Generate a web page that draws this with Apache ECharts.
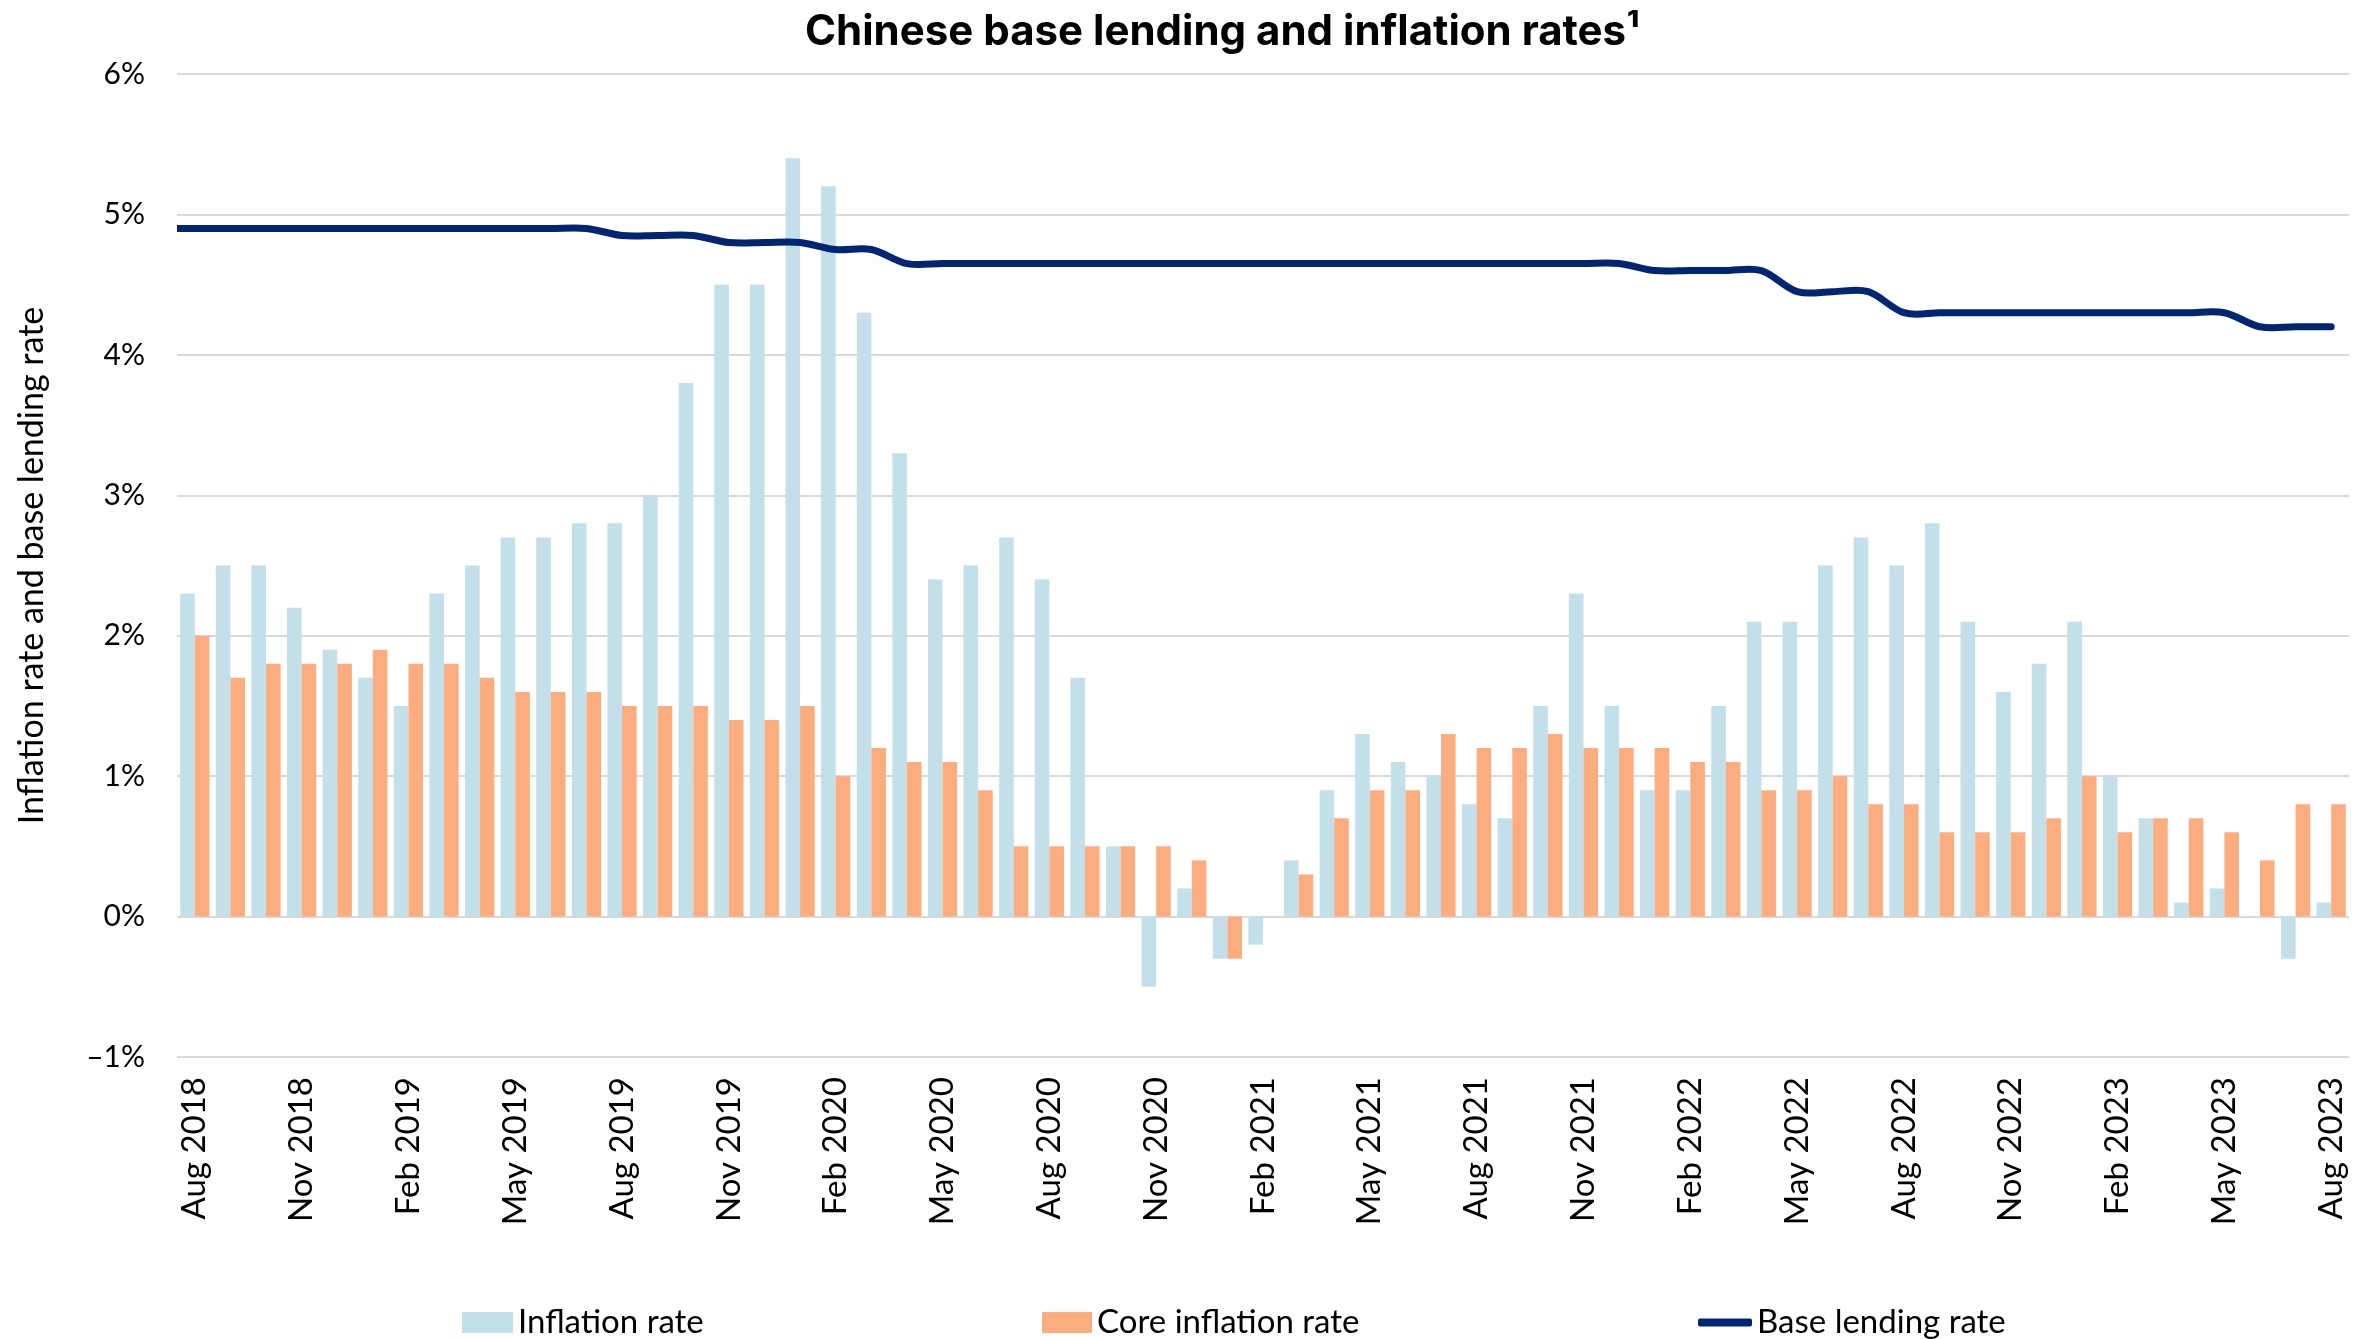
<!DOCTYPE html>
<html>
<head>
<meta charset="utf-8">
<script src="https://cdn.jsdelivr.net/npm/echarts@6/dist/echarts.min.js"></script>
<style>
  html, body { margin: 0; padding: 0; background: #ffffff; }
  #chart { width: 2367px; height: 1339px; }
</style>
</head>
<body>
<div id="chart"></div>
<script>
// Monthly categories, Aug 2018 – Aug 2023
const months = [
  'Aug 2018','Sep 2018','Oct 2018','Nov 2018','Dec 2018',
  'Jan 2019','Feb 2019','Mar 2019','Apr 2019','May 2019','Jun 2019','Jul 2019','Aug 2019','Sep 2019','Oct 2019','Nov 2019','Dec 2019',
  'Jan 2020','Feb 2020','Mar 2020','Apr 2020','May 2020','Jun 2020','Jul 2020','Aug 2020','Sep 2020','Oct 2020','Nov 2020','Dec 2020',
  'Jan 2021','Feb 2021','Mar 2021','Apr 2021','May 2021','Jun 2021','Jul 2021','Aug 2021','Sep 2021','Oct 2021','Nov 2021','Dec 2021',
  'Jan 2022','Feb 2022','Mar 2022','Apr 2022','May 2022','Jun 2022','Jul 2022','Aug 2022','Sep 2022','Oct 2022','Nov 2022','Dec 2022',
  'Jan 2023','Feb 2023','Mar 2023','Apr 2023','May 2023','Jun 2023','Jul 2023','Aug 2023'
];

// Headline CPI inflation, % year on year
const inflationRate = [
  2.3, 2.5, 2.5, 2.2, 1.9,
  1.7, 1.5, 2.3, 2.5, 2.7, 2.7, 2.8, 2.8, 3.0, 3.8, 4.5, 4.5,
  5.4, 5.2, 4.3, 3.3, 2.4, 2.5, 2.7, 2.4, 1.7, 0.5, -0.5, 0.2,
  -0.3, -0.2, 0.4, 0.9, 1.3, 1.1, 1.0, 0.8, 0.7, 1.5, 2.3, 1.5,
  0.9, 0.9, 1.5, 2.1, 2.1, 2.5, 2.7, 2.5, 2.8, 2.1, 1.6, 1.8,
  2.1, 1.0, 0.7, 0.1, 0.2, 0.0, -0.3, 0.1
];

// Core CPI inflation, % year on year
const coreInflationRate = [
  2.0, 1.7, 1.8, 1.8, 1.8,
  1.9, 1.8, 1.8, 1.7, 1.6, 1.6, 1.6, 1.5, 1.5, 1.5, 1.4, 1.4,
  1.5, 1.0, 1.2, 1.1, 1.1, 0.9, 0.5, 0.5, 0.5, 0.5, 0.5, 0.4,
  -0.3, 0.0, 0.3, 0.7, 0.9, 0.9, 1.3, 1.2, 1.2, 1.3, 1.2, 1.2,
  1.2, 1.1, 1.1, 0.9, 0.9, 1.0, 0.8, 0.8, 0.6, 0.6, 0.6, 0.7,
  1.0, 0.6, 0.7, 0.7, 0.6, 0.4, 0.8, 0.8
];

// Base lending rate, %; the July 2018 reading carries the line in from the left edge
const lendingRateJul2018 = 4.9;
const lendingRate = [
  4.9, 4.9, 4.9, 4.9, 4.9,
  4.9, 4.9, 4.9, 4.9, 4.9, 4.9, 4.9, 4.85, 4.85, 4.85, 4.8, 4.8,
  4.8, 4.75, 4.75, 4.65, 4.65, 4.65, 4.65, 4.65, 4.65, 4.65, 4.65, 4.65,
  4.65, 4.65, 4.65, 4.65, 4.65, 4.65, 4.65, 4.65, 4.65, 4.65, 4.65, 4.65,
  4.6, 4.6, 4.6, 4.6, 4.45, 4.45, 4.45, 4.3, 4.3, 4.3, 4.3, 4.3,
  4.3, 4.3, 4.3, 4.3, 4.3, 4.2, 4.2, 4.2
];

const yTicks = { min: -1, max: 6, step: 1 };

// [month index, rate] pairs; index -1 is July 2018
const lendingPoints = [[-1, lendingRateJul2018]].concat(lendingRate.map((v, i) => [i, v]));

const BLUE = '#C3DFEA';
const ORANGE = '#FCAD80';
const NAVY = '#002673';
const FONT = 'Lato';

// Smoothed line through all points (Catmull-Rom style cubic segments),
// clipped to the plotting area.
function renderLendingCurve(params, api) {
  if (params.dataIndex !== 0) return null;
  const pts = lendingPoints.map(p => api.coord(p));
  const n = pts.length;
  let d = 'M' + pts[0][0] + ' ' + pts[0][1];
  for (let i = 0; i < n - 1; i++) {
    const p0 = pts[Math.max(i - 1, 0)];
    const p1 = pts[i];
    const p2 = pts[i + 1];
    const p3 = pts[Math.min(i + 2, n - 1)];
    const c1x = p1[0] + (p2[0] - p0[0]) / 6;
    const c1y = p1[1] + (p2[1] - p0[1]) / 6;
    const c2x = p2[0] - (p3[0] - p1[0]) / 6;
    const c2y = p2[1] - (p3[1] - p1[1]) / 6;
    d += ' C' + c1x + ' ' + c1y + ' ' + c2x + ' ' + c2y + ' ' + p2[0] + ' ' + p2[1];
  }
  const cs = params.coordSys;
  return {
    type: 'path',
    shape: { pathData: d },
    style: { fill: 'none', stroke: NAVY, lineWidth: 7, lineCap: 'round', lineJoin: 'round' },
    clipPath: { type: 'rect', shape: { x: cs.x, y: cs.y - 20, width: cs.width, height: cs.height + 40 } }
  };
}

const chart = echarts.init(document.getElementById('chart'), null, { renderer: 'canvas' });

chart.setOption({
  backgroundColor: '#ffffff',
  animation: false,
  title: {
    text: 'Chinese base lending and inflation rates\u00B9',
    left: 800,
    top: 6,
    textStyle: { fontFamily: 'Inter', fontWeight: 'bold', fontSize: 42, color: '#000000' }
  },
  legend: [
    {
      data: ['Inflation rate'], left: 462, top: 1306, padding: 0,
      icon: 'rect', itemWidth: 51, itemHeight: 21,
      textStyle: { fontFamily: FONT, fontSize: 33, color: '#000000' }
    },
    {
      data: ['Core inflation rate'], left: 1042, top: 1306, padding: 0,
      icon: 'rect', itemWidth: 50, itemHeight: 21,
      textStyle: { fontFamily: FONT, fontSize: 33, color: '#000000' }
    },
    {
      data: [{ name: 'Base lending rate', itemStyle: { color: NAVY } }], left: 1698, top: 1306, padding: 0,
      icon: 'roundRect', itemWidth: 54, itemHeight: 8,
      textStyle: { fontFamily: FONT, fontSize: 33, color: '#000000' }
    }
  ],
  grid: { left: 177, right: 18, top: 74, bottom: 282, containLabel: false },
  xAxis: [
    {
      type: 'category',
      data: months,
      position: 'bottom',
      axisLine: { show: false },
      axisTick: { show: false },
      axisLabel: {
        interval: 2,
        rotate: 90,
        margin: 20,
        fontFamily: FONT,
        fontSize: 33,
        color: '#000000'
      },
      splitLine: { show: false }
    },
    {
      type: 'value',
      min: -0.5,
      max: months.length - 0.5,
      show: false
    }
  ],
  yAxis: {
    type: 'value',
    min: yTicks.min,
    max: yTicks.max,
    interval: yTicks.step,
    name: 'Inflation rate and base lending rate',
    nameLocation: 'middle',
    nameGap: 128,
    nameRotate: 90,
    nameTextStyle: { fontFamily: FONT, fontSize: 34, color: '#000000' },
    axisLine: { show: false },
    axisTick: { show: false },
    axisLabel: {
      margin: 32,
      fontFamily: FONT,
      fontSize: 30,
      color: '#000000',
      formatter: v => (v < 0 ? '\u2013' + Math.abs(v) : v) + '%'
    },
    splitLine: { lineStyle: { color: '#D9D9D9', width: 2 } }
  },
  series: [
    {
      name: 'Inflation rate',
      type: 'bar',
      data: inflationRate,
      itemStyle: { color: BLUE },
      barGap: '0%',
      barCategoryGap: '18%',
      z: 2
    },
    {
      name: 'Core inflation rate',
      type: 'bar',
      data: coreInflationRate,
      itemStyle: { color: ORANGE },
      barGap: '0%',
      barCategoryGap: '18%',
      z: 2
    },
    {
      name: 'Base lending rate',
      type: 'custom',
      xAxisIndex: 1,
      data: lendingPoints,
      renderItem: renderLendingCurve,
      itemStyle: { color: NAVY },
      z: 5
    }
  ]
});
</script>
</body>
</html>
